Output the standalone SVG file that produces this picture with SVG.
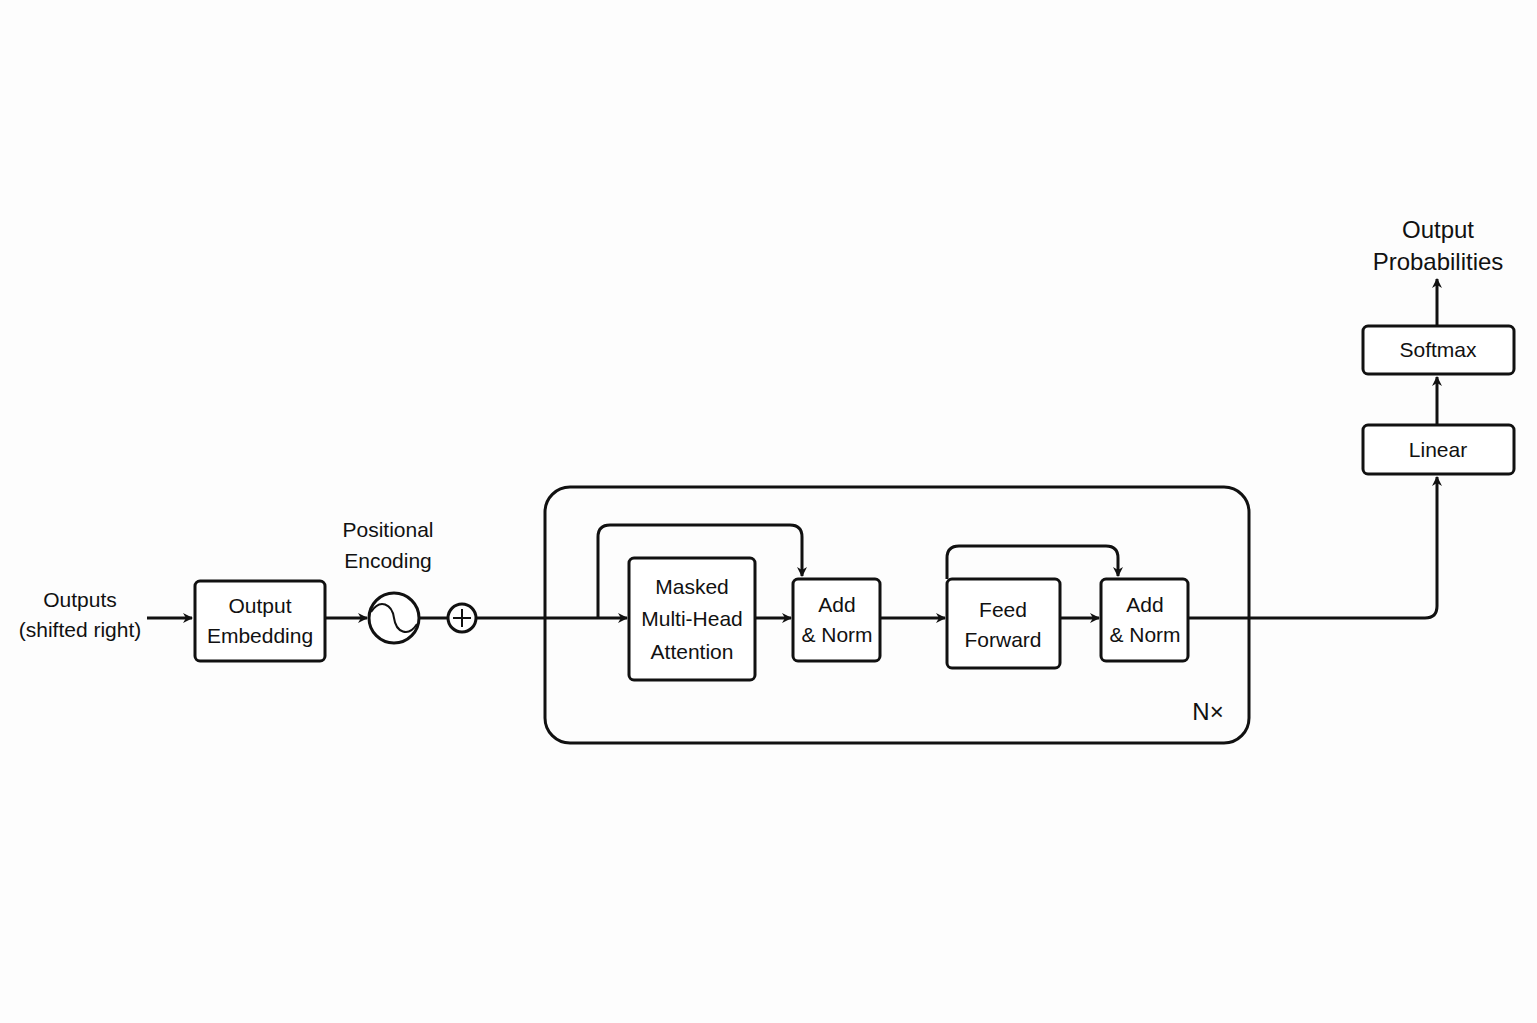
<svg xmlns="http://www.w3.org/2000/svg" width="1537" height="1023" viewBox="0 0 1537 1023">
<style>
.b{fill:#fff;stroke:#111;stroke-width:3}
.l{fill:none;stroke:#111;stroke-width:3}
text{font-family:"Liberation Sans",Arial,sans-serif;font-size:21px;fill:#111;text-anchor:middle}
</style>
<defs><marker id="a" markerWidth="10" markerHeight="10" refX="9" refY="5" orient="auto" markerUnits="userSpaceOnUse"><path d="M0,0 L10,5 L0,10 L3,5 Z" fill="#111"/></marker></defs>
<rect width="1537" height="1023" fill="#fdfdfd"/>
<g id="container"><rect class="l" x="545" y="487" width="704" height="256" rx="25"/><text x="1208" y="720" style="font-size:24px">N×</text></g>
<g id="connectors">
<path class="l" d="M147 618 H192" marker-end="url(#a)"/>
<path class="l" d="M325 618 H367" marker-end="url(#a)"/>
<path class="l" d="M419 618 H448"/>
<path class="l" d="M476 618 H627" marker-end="url(#a)"/>
<path class="l" d="M598 618 V537 Q598 525 610 525 H790 Q802 525 802 537 V576" marker-end="url(#a)"/>
<path class="l" d="M755 618 H791" marker-end="url(#a)"/>
<path class="l" d="M880 618 H945" marker-end="url(#a)"/>
<path class="l" d="M947 579 V558 Q947 546 959 546 H1106 Q1118 546 1118 558 V576" marker-end="url(#a)"/>
<path class="l" d="M1060 618 H1099" marker-end="url(#a)"/>
<path class="l" d="M1188 618 H1425 Q1437 618 1437 606 V477" marker-end="url(#a)"/>
<path class="l" d="M1437 425 V377" marker-end="url(#a)"/>
<path class="l" d="M1437 326 V279" marker-end="url(#a)"/>
</g>
<g id="inputs"><text x="80" y="607">Outputs</text><text x="80" y="637">(shifted right)</text></g>
<g id="embed"><rect class="b" x="195" y="581" width="130" height="80" rx="5"/><text x="260" y="613">Output</text><text x="260" y="643">Embedding</text></g>
<g id="posenc"><text x="388" y="537">Positional</text><text x="388" y="568">Encoding</text><circle class="b" cx="394" cy="618" r="25"/><path class="l" style="stroke-width:2" d="M371 612 C380 598 392 604 394 618 C396 632 408 638 417 624"/></g>
<g id="plus"><circle class="b" cx="462" cy="618" r="14"/><path class="l" style="stroke-width:2" d="M462 609 V627 M453 618 H471"/></g>
<g id="mha"><rect class="b" x="629" y="558" width="126" height="122" rx="5"/><text x="692" y="594">Masked</text><text x="692" y="626">Multi-Head</text><text x="692" y="659">Attention</text></g>
<g id="an1"><rect class="b" x="793" y="579" width="87" height="82" rx="5"/><text x="837" y="612">Add</text><text x="837" y="642">&amp; Norm</text></g>
<g id="ff"><rect class="b" x="947" y="579" width="113" height="89" rx="5"/><text x="1003" y="617">Feed</text><text x="1003" y="647">Forward</text></g>
<g id="an2"><rect class="b" x="1101" y="579" width="87" height="82" rx="5"/><text x="1145" y="612">Add</text><text x="1145" y="642">&amp; Norm</text></g>
<g id="linear"><rect class="b" x="1363" y="425" width="151" height="49" rx="5"/><text x="1438" y="457">Linear</text></g>
<g id="softmax"><rect class="b" x="1363" y="326" width="151" height="48" rx="5"/><text x="1438" y="357">Softmax</text></g>
<g id="out"><text x="1438" y="238" style="font-size:24px">Output</text><text x="1438" y="270" style="font-size:24px">Probabilities</text></g>
</svg>
